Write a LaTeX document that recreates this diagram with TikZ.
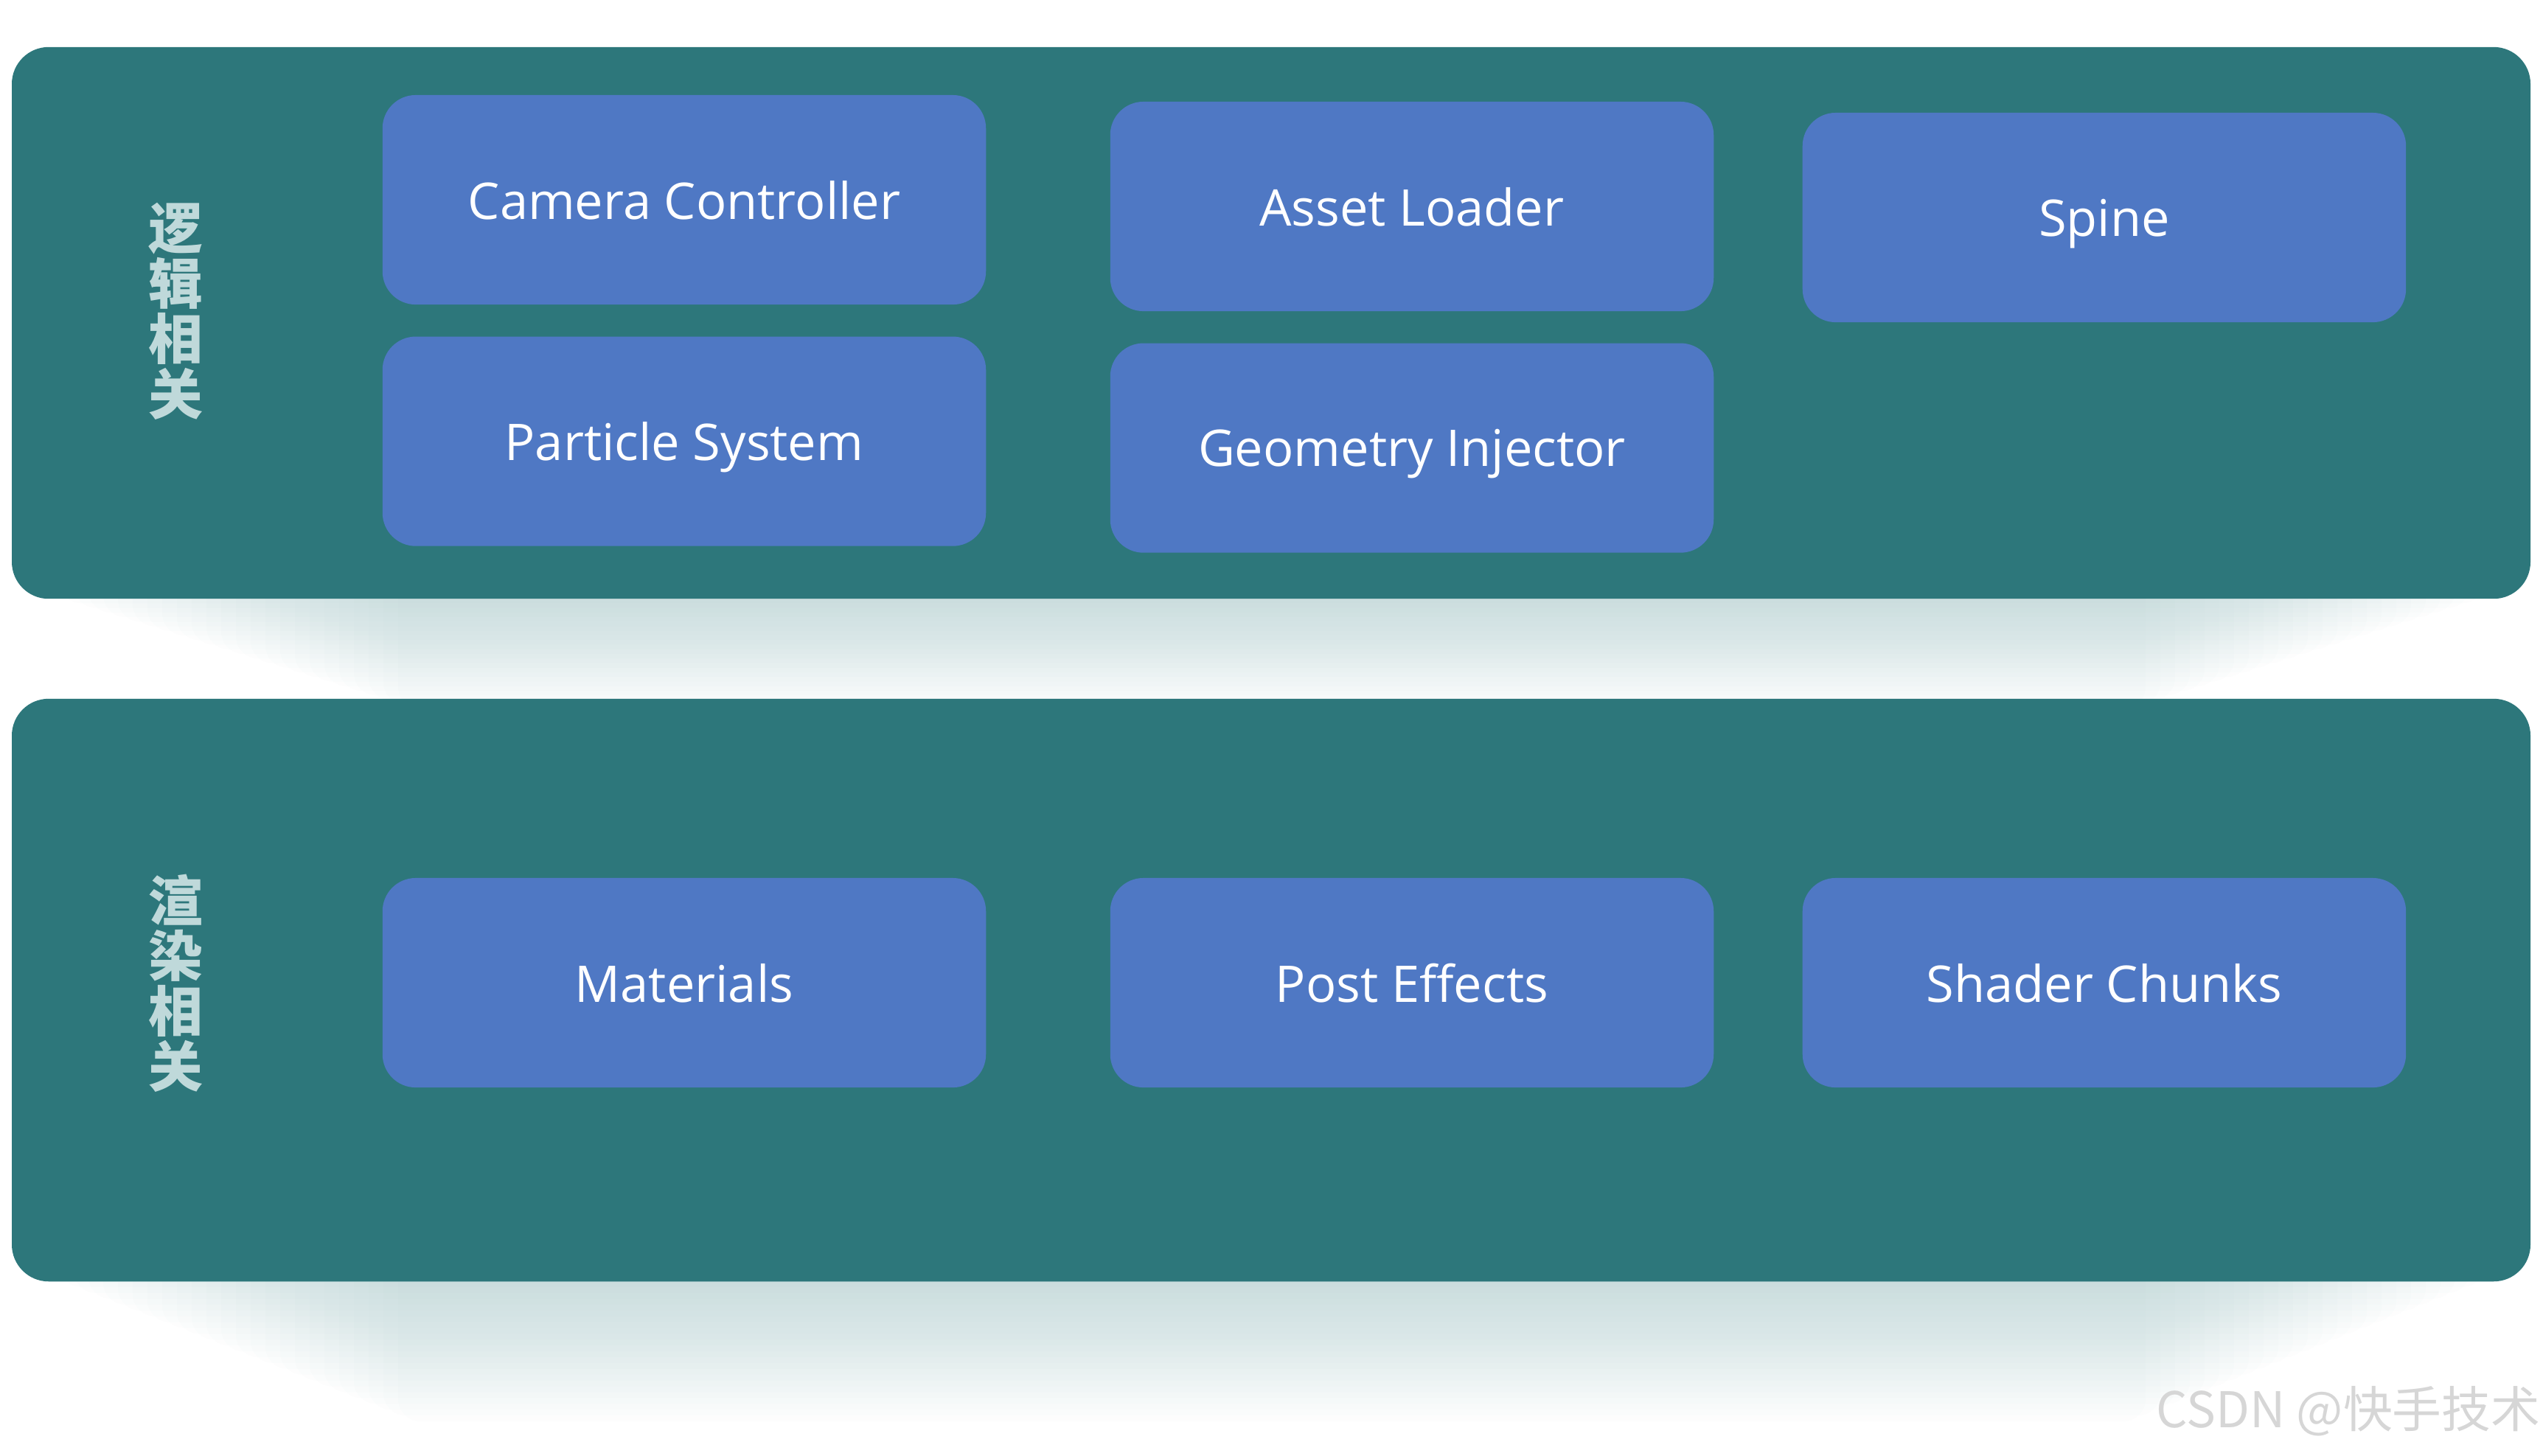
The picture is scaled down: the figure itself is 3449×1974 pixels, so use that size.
\documentclass[tikz,border=0pt]{standalone}
\usepackage{fontspec}
\setmainfont{Open Sans}
\newfontfamily\cjk{Noto Sans CJK SC}
\usetikzlibrary{positioning}
\definecolor{panelteal}{RGB}{45,119,123}
\definecolor{boxblue}{RGB}{79,120,196}
\definecolor{labelcyan}{RGB}{191,217,218}
\definecolor{markgray}{RGB}{214,214,214}

\begin{document}
\begin{tikzpicture}[
  x=0.01cm, y=-0.01cm,
  panel/.style={rectangle,fill=panelteal,rounded corners=0.5cm,inner sep=0pt,minimum width=34.14cm},
  box/.style={rectangle,fill=boxblue,rounded corners=0.45cm,minimum width=8.18cm,minimum height=2.84cm,text depth=0pt,align=center,text=white,font=\fontsize{19.5}{23}\selectfont},
  tag/.style={text=labelcyan,align=center,inner sep=0pt,font=\cjk\bfseries\fontsize{21}{21.3}\selectfont},
  node distance=0.42cm and 1.67cm
]
\useasboundingbox (0,0) rectangle (3449,1974);
% soft shadows under the two layers
\foreach \ybase/\ydepth in {812/150,1738/190}
  \foreach \k in {1,...,24}
    \fill[panelteal,opacity=0.012,rounded corners=0.3cm]
      (60+20*\k,\ybase-30) rectangle (3390-20*\k,\ybase+\ydepth*\k/24);
% layers
\node[panel,minimum height=7.48cm] (logic) at (1724,438) {};
\node[panel,minimum height=7.90cm] (render) at (1724,1343) {};
\node[tag] (logictag) at (238,422) {逻\\辑\\相\\关};
\node[tag] (rendertag) at (238,1334) {渲\\染\\相\\关};
% logic modules
\node[box] (camera) at (928,271) {Camera Controller};
\node[box,below=of camera] (particle) {Particle System};
\node[box,right=of camera,yshift=-0.09cm] (asset) {Asset Loader};
\node[box,below=of asset] (geometry) {Geometry Injector};
\node[box,right=1.19cm of asset,yshift=-0.15cm] (spine) {Spine};
% render modules
\node[box] (materials) at (928,1333) {Materials};
\node[box,right=of materials] (post) {Post Effects};
\node[box,right=1.19cm of post] (shader) {Shader Chunks};
\node[anchor=east,text=markgray,inner sep=0pt,font=\cjk\fontsize{19}{19}\selectfont] (mark) at (3446,1914) {CSDN @快手技术};
\end{tikzpicture}
\end{document}
